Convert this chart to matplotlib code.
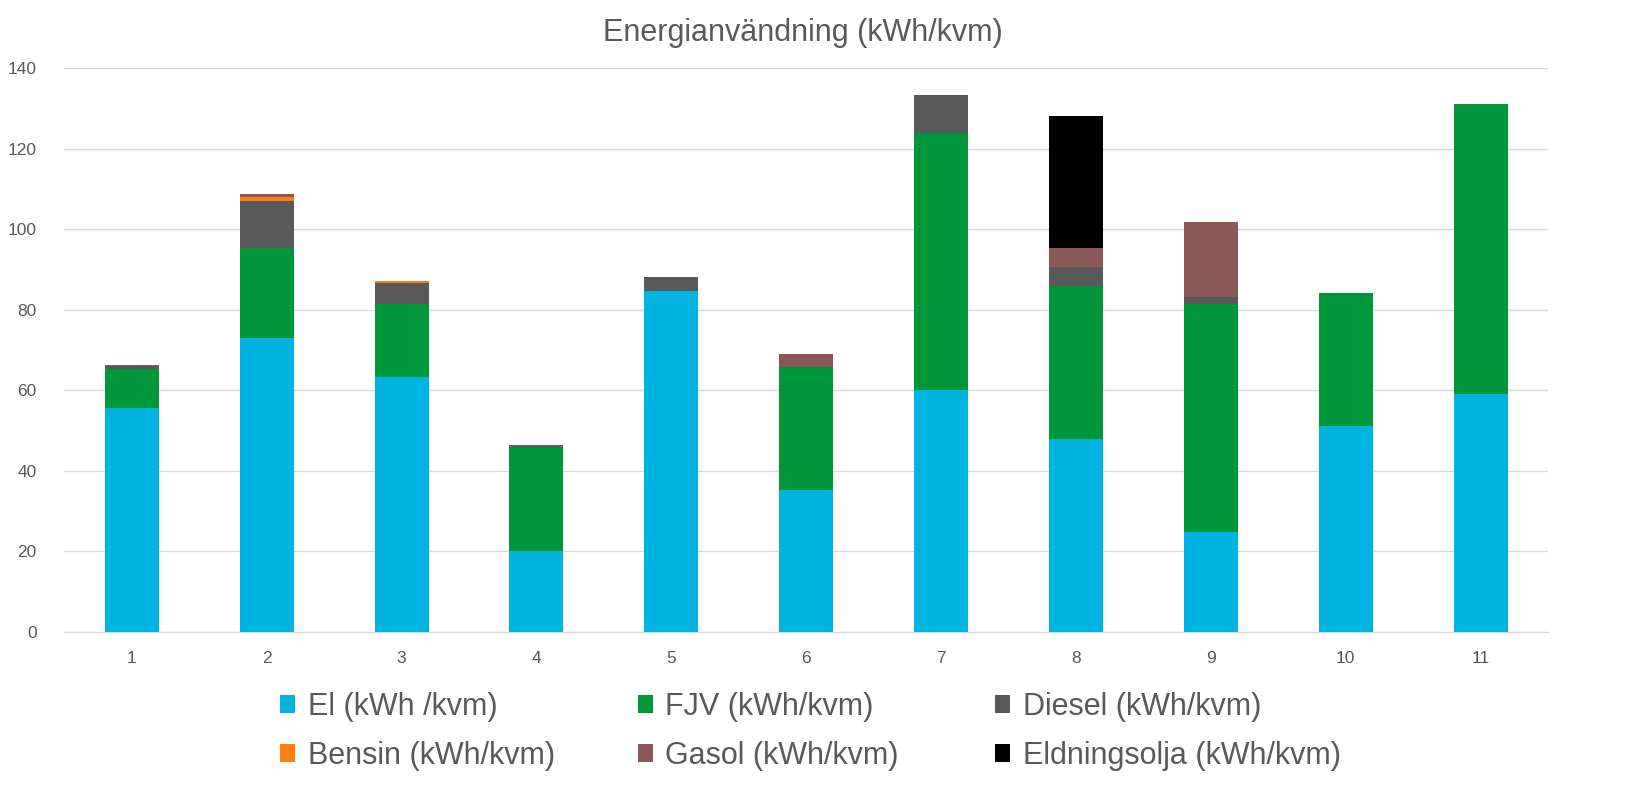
import numpy as np
import matplotlib.pyplot as plt

plt.rcParams['font.family'] = ['Liberation Sans', 'DejaVu Sans']

# Data (kWh/kvm)
categories = ['1', '2', '3', '4', '5', '6', '7', '8', '9', '10', '11']
el = [55.6, 73.0, 63.3, 20.1, 84.6, 35.2, 60.1, 47.9, 24.8, 51.1, 59.1]
fjv = [9.7, 22.3, 18.1, 25.8, 0.0, 30.6, 63.8, 38.0, 56.6, 33.0, 71.9]
diesel = [0.7, 11.7, 5.2, 0.3, 3.5, 0.0, 9.4, 4.7, 1.7, 0.0, 0.0]
bensin = [0.0, 0.9, 0.4, 0.0, 0.0, 0.0, 0.0, 0.0, 0.0, 0.0, 0.0]
gasol = [0.3, 0.9, 0.0, 0.2, 0.0, 3.2, 0.0, 4.7, 18.7, 0.0, 0.0]
eldningsolja = [0.0, 0.0, 0.0, 0.0, 0.0, 0.0, 0.0, 32.8, 0.0, 0.0, 0.0]

series = [
    ('El (kWh /kvm)', el, '#00B4E1'),
    ('FJV (kWh/kvm)', fjv, '#00973A'),
    ('Diesel (kWh/kvm)', diesel, '#595959'),
    ('Bensin (kWh/kvm)', bensin, '#FF7F0E'),
    ('Gasol (kWh/kvm)', gasol, '#8B5857'),
    ('Eldningsolja (kWh/kvm)', eldningsolja, '#000000'),
]

fig = plt.figure(figsize=(16.51, 8.11), dpi=100)
ax = fig.add_axes([0.039, 0.2207, 0.8986, 0.6955])

x = np.arange(len(categories))
bottom = np.zeros(len(categories))
handles = []
for label, vals, color in series:
    b = ax.bar(x, vals, width=0.4, bottom=bottom, color=color, label=label, zorder=3)
    handles.append(b)
    bottom += np.array(vals)

ax.set_xlim(-0.5, len(categories) - 0.5)
ax.set_ylim(0, 140)
ax.set_yticks(range(0, 141, 20))
ax.set_xticks(x)
ax.set_xticklabels(categories)
ax.grid(axis='y', color='#D9D9D9', linewidth=1, zorder=0)
for side in ['top', 'right', 'left']:
    ax.spines[side].set_visible(False)
ax.spines['bottom'].set_color('#D9D9D9')
ax.tick_params(axis='both', length=0, labelsize=12.5, colors='#595959')
ax.tick_params(axis='x', pad=14)
ax.tick_params(axis='y', pad=20)

fig.suptitle('Energianvändning (kWh/kvm)', fontsize=22, color='#595959',
             x=0.4864, y=0.978)

# legend: three equal-width columns, two rows each
col_x = [0.1696, 0.3864, 0.6027]
for c in range(3):
    idx = [c, c + 3]
    leg = ax.legend([handles[i] for i in idx], [series[i][0] for i in idx],
                    loc='center left', bbox_to_anchor=(col_x[c], 0.098),
                    bbox_transform=fig.transFigure, frameon=False, fontsize=22,
                    handlelength=0.5, handleheight=0.5, handletextpad=0.4,
                    labelspacing=0.62, borderpad=0, borderaxespad=0)
    for t in leg.get_texts():
        t.set_color('#595959')
    if c < 2:
        ax.add_artist(leg)

plt.savefig('out.png')
